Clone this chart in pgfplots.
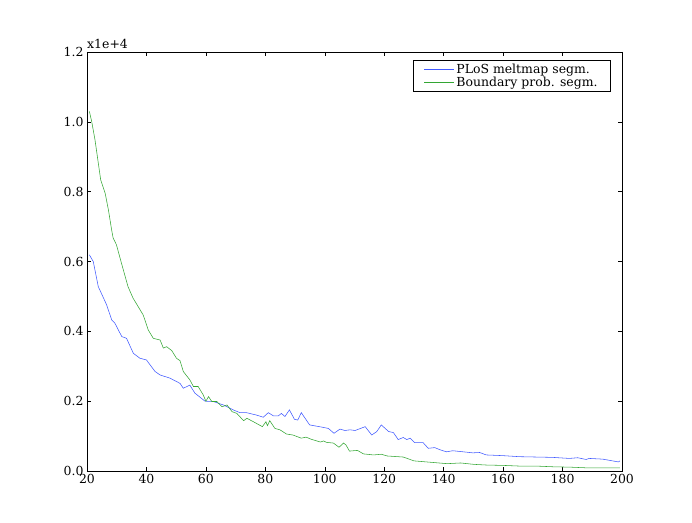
\documentclass[border=0pt]{standalone}
\usepackage{fontspec}
\setmainfont{DejaVu Serif}
\usepackage{pgfplots}
\pgfplotsset{compat=1.18}
\definecolor{mplblue}{rgb}{0.25,0.35,1}
\definecolor{mplgreen}{rgb}{0.2,0.65,0.2}

\begin{document}
\begin{tikzpicture}
\begin{axis}[
  width=535bp, height=419bp, scale only axis,
  xmin=20, xmax=200, ymin=0, ymax=1.2,
  xtick={20,40,...,200},
  ytick={0,0.2,...,1.2},
  yticklabel style={/pgf/number format/fixed, /pgf/number format/precision=1, /pgf/number format/fixed zerofill},
  /pgf/number format/assume math mode=true,
  tick align=inside, tick pos=both,
  major tick length=4bp,
  tick style={black, line width=0.5pt},
  axis line style={line width=0.8pt},
  ticklabel style={font=\fontsize{12.5}{14}\selectfont},
  legend style={at={(0.979,0.981)}, anchor=north east,
    font=\fontsize{12.5}{14}\selectfont, inner xsep=11bp, inner ysep=1.5pt, row sep=-2pt},
  legend cell align=left,
  legend image post style={xscale=1.75},
  clip=true,
]
\addplot[color=mplblue, line width=0.55pt] coordinates {
(20.8,0.619) (22.1,0.600) (23.8,0.528) (26.6,0.476) (28.3,0.433) (29.4,0.423)
(31.7,0.385) (33.3,0.380) (35.6,0.337) (37.8,0.323) (40,0.318) (42.9,0.285)
(44.6,0.275) (47.9,0.266) (51.3,0.251) (52.4,0.237) (54.6,0.246) (56.3,0.223)
(59.7,0.200) (62.5,0.199) (65.9,0.189) (69.2,0.175) (71.5,0.167) (73.7,0.167)
(77.1,0.160) (79.3,0.154) (81,0.167) (82.7,0.158) (84.4,0.158) (85.4,0.165)
(86.6,0.156) (88.1,0.175) (89.8,0.148) (90.9,0.146) (92.1,0.167) (94.9,0.132)
(98.8,0.126) (101.2,0.122) (103.1,0.108) (105.1,0.120) (106.8,0.116) (108.5,0.118)
(110.2,0.116) (113.6,0.127) (115.8,0.103) (117.5,0.113) (119,0.132) (121.5,0.113)
(123.1,0.110) (124.7,0.090) (126.4,0.096) (127.6,0.090) (128.7,0.094) (130.3,0.081)
(133.1,0.081) (134.8,0.065) (137,0.067) (138.7,0.061) (140.9,0.055) (143.1,0.058)
(146.5,0.055) (149.8,0.052) (152.1,0.053) (154.3,0.046) (159.9,0.044) (165.5,0.041)
(171.1,0.040) (176.7,0.039) (182.3,0.036) (185.1,0.038) (187.9,0.033) (189,0.036)
(193.5,0.034) (198.8,0.026) (199.3,0.029)
};
\addlegendentry{PLoS meltmap segm.}
\addplot[color=mplgreen, line width=0.55pt] coordinates {
(20.8,1.030) (21.6,1.000) (22.7,0.948) (23.8,0.882) (24.6,0.834) (26.1,0.796)
(27.2,0.748) (28.3,0.690) (28.8,0.667) (29.9,0.648) (31.6,0.595) (33.8,0.528)
(35.5,0.495) (37.2,0.471) (38.9,0.447) (40.6,0.404) (42.3,0.380) (44.6,0.375)
(45.7,0.352) (46.8,0.356) (48.5,0.345) (50.1,0.323) (51.3,0.316) (52.4,0.285)
(54.6,0.261) (55.8,0.242) (57.4,0.242) (59.1,0.218) (60,0.200) (60.9,0.213)
(62,0.199) (63.7,0.199) (65.4,0.184) (67.1,0.189) (68.8,0.170) (70.4,0.165)
(72.7,0.144) (73.8,0.151) (76,0.141) (79,0.127) (80.2,0.141) (80.7,0.130)
(81.5,0.144) (83.2,0.122) (84.9,0.118) (87.1,0.106) (89.3,0.103) (92.1,0.094)
(93.7,0.097) (95.4,0.091) (98.5,0.083) (99.6,0.086) (100.6,0.082) (102.9,0.080)
(104.8,0.068) (106.3,0.080) (107.1,0.075) (108.3,0.057) (111,0.059) (113,0.049)
(116.4,0.046) (119,0.048) (121,0.043) (126.4,0.040) (130,0.029) (135.6,0.025)
(141.2,0.021) (145.7,0.023) (150.2,0.019) (154.6,0.017) (160.2,0.016) (165.8,0.014)
(171.4,0.014) (177,0.012) (182.6,0.011) (188.2,0.009) (193.8,0.009) (199.3,0.009)
};
\addlegendentry{Boundary prob. segm.}
\end{axis}
\node[anchor=south west, inner sep=0pt, font=\fontsize{12.5}{14}\selectfont] at ([yshift=3bp]current axis.north west) {x1e+4};
\path[use as bounding box] ([shift={(-87bp,-52bp)}]current axis.south west) rectangle ([shift={(70bp,52bp)}]current axis.north east);
\end{tikzpicture}
\end{document}
